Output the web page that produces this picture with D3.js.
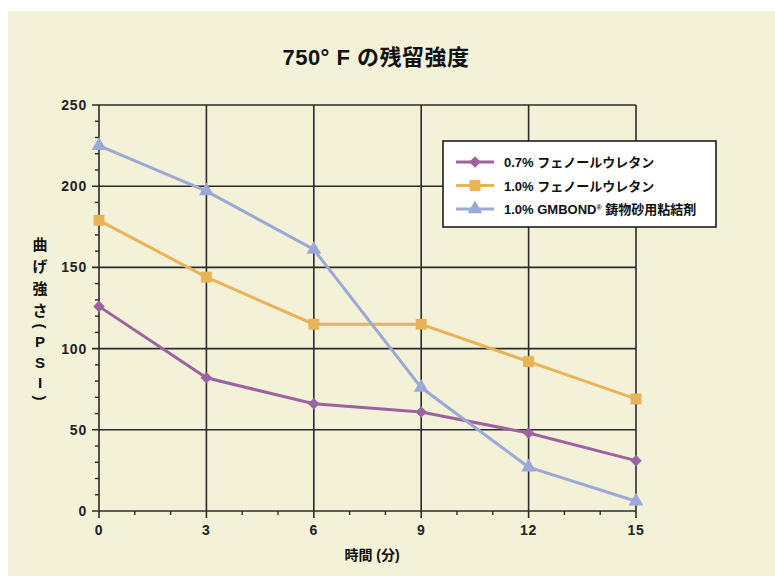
<!DOCTYPE html>
<html>
<head>
<meta charset="utf-8">
<script src="https://cdn.jsdelivr.net/npm/d3@7"></script>
<style>
  body { margin: 0; background: #fff; }
  svg { display: block; font-family: "Liberation Sans", "Noto Sans CJK JP", sans-serif; }
</style>
</head>
<body>
<div id="chart"></div>
<script>
const times = [0, 3, 6, 9, 12, 15]
const seriesNames = ["0.7% フェノールウレタン", "1.0% フェノールウレタン", "1.0% GMBOND"]
const phenol07 = [126, 82, 66, 61, 48, 31]
const phenol10 = [179, 144, 115, 115, 92, 69]
const gmbond10 = [225, 197, 161, 76, 27, 6]
const xTicks = [0, 3, 6, 9, 12, 15]
const yTicks = [0, 50, 100, 150, 200, 250]
const yLabelChars = ["曲", "げ", "強", "さ", "(", "P", "S", "I", ")"]

const W = 775, H = 576
const margin = { top: 105, right: 139, bottom: 65, left: 99 }
const width = W - margin.left - margin.right
const height = H - margin.top - margin.bottom

const series = [
  { name: seriesNames[0], values: phenol07, color: "#9b64a0", symbol: d3.symbolDiamond2, size: 85 },
  { name: seriesNames[1], values: phenol10, color: "#e9b357", symbol: d3.symbolSquare, size: 120 },
  { name: seriesNames[2], values: gmbond10, color: "#9ca9d7", symbol: d3.symbolTriangle, size: 95 }
]

const svg = d3.select("#chart").append("svg")
  .attr("width", W)
  .attr("height", H)

svg.append("rect")
  .attr("x", 8).attr("y", 11)
  .attr("width", W - 8).attr("height", H - 11)
  .attr("fill", "#f3f1d8")

svg.append("text")
  .attr("x", 376).attr("y", 65)
  .attr("text-anchor", "middle")
  .attr("font-size", "22px")
  .attr("font-weight", "bold")
  .attr("letter-spacing", "0.5px")
  .attr("fill", "#111")
  .text("750° F の残留強度")

const g = svg.append("g").attr("transform", `translate(${margin.left},${margin.top})`)

const x = d3.scaleLinear().domain([0, 15]).range([0, width])
const y = d3.scaleLinear().domain([0, 250]).range([height, 0])

// grid
g.append("g")
  .selectAll("line")
  .data(yTicks)
  .join("line")
  .attr("x1", -7).attr("x2", width)
  .attr("y1", d => y(d)).attr("y2", d => y(d))
  .attr("stroke", "#2b2b2b").attr("stroke-width", 1.6)

g.append("g")
  .selectAll("line")
  .data(xTicks)
  .join("line")
  .attr("x1", d => x(d)).attr("x2", d => x(d))
  .attr("y1", 0).attr("y2", height + 7)
  .attr("stroke", "#2b2b2b").attr("stroke-width", 1.6)

// minor ticks
g.append("g")
  .selectAll("line")
  .data(d3.range(0, 251, 10).filter(v => v % 50 !== 0))
  .join("line")
  .attr("x1", -4).attr("x2", 0)
  .attr("y1", d => y(d)).attr("y2", d => y(d))
  .attr("stroke", "#2b2b2b").attr("stroke-width", 1.4)

g.append("g")
  .selectAll("line")
  .data(d3.range(0, 16, 1).filter(v => v % 3 !== 0))
  .join("line")
  .attr("x1", d => x(d)).attr("x2", d => x(d))
  .attr("y1", height).attr("y2", height + 4)
  .attr("stroke", "#2b2b2b").attr("stroke-width", 1.4)

// tick labels
g.append("g")
  .selectAll("text")
  .data(yTicks)
  .join("text")
  .attr("x", -12).attr("y", d => y(d) + 5)
  .attr("text-anchor", "end")
  .attr("font-size", "14px").attr("font-weight", "bold")
  .attr("letter-spacing", "0.8px")
  .attr("fill", "#222")
  .text(d => d)

g.append("g")
  .selectAll("text")
  .data(xTicks)
  .join("text")
  .attr("x", d => x(d)).attr("y", height + 24)
  .attr("text-anchor", "middle")
  .attr("font-size", "14px").attr("font-weight", "bold")
  .attr("letter-spacing", "0.8px")
  .attr("fill", "#222")
  .text(d => d)

// axis titles
svg.append("text")
  .attr("x", 372).attr("y", 560)
  .attr("text-anchor", "middle")
  .attr("font-size", "14px").attr("font-weight", "bold")
  .attr("fill", "#111")
  .text("時間 (分)")

const yPos = [245, 267, 289, 311, 326, 342, 363, 383, 398]
svg.append("g")
  .selectAll("text")
  .data(yLabelChars)
  .join("text")
  .attr("transform", (d, i) => (d === "(" || d === ")")
    ? `translate(40,${yPos[i]}) rotate(90)`
    : `translate(40,${yPos[i]})`)
  .attr("dy", "0.36em")
  .attr("text-anchor", "middle")
  .attr("font-size", "15px").attr("font-weight", "bold")
  .attr("fill", "#111")
  .text(d => d)

// lines
const line = d3.line()
  .x((d, i) => x(times[i]))
  .y(d => y(d))

series.forEach(s => {
  g.append("path")
    .datum(s.values)
    .attr("fill", "none")
    .attr("stroke", s.color)
    .attr("stroke-width", 3)
    .attr("d", line)

  g.selectAll(null)
    .data(s.values)
    .join("path")
    .attr("transform", (d, i) => `translate(${x(times[i])},${y(d)})`)
    .attr("d", d3.symbol().type(s.symbol).size(s.size))
    .attr("fill", s.color)
})

// legend
const legend = svg.append("g").attr("transform", "translate(443,141)")
legend.append("rect")
  .attr("width", 273).attr("height", 86)
  .attr("fill", "#fff")
  .attr("stroke", "#111").attr("stroke-width", 1.5)

series.forEach((s, i) => {
  const row = legend.append("g").attr("transform", `translate(0,${21 + i * 23.5})`)
  row.append("line")
    .attr("x1", 13).attr("x2", 51)
    .attr("stroke", s.color).attr("stroke-width", 3)
  row.append("path")
    .attr("transform", "translate(32,0)")
    .attr("d", d3.symbol().type(s.symbol).size(s.size))
    .attr("fill", s.color)
  const t = row.append("text")
    .attr("x", 61).attr("y", 5)
    .attr("font-size", "13px").attr("font-weight", "bold")
    .attr("fill", "#111")
    .text(s.name)
  if (i === 2) {
    t.append("tspan").attr("font-size", "7px").attr("dy", -4).text("®")
    t.append("tspan").attr("dy", 4).text(" 鋳物砂用粘結剤")
  }
})
</script>
</body>
</html>
